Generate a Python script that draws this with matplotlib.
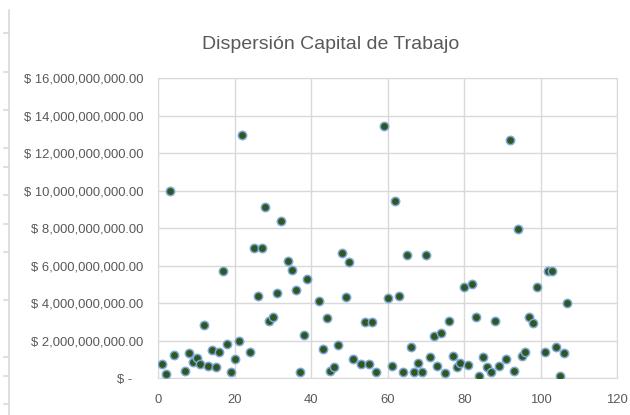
import matplotlib.pyplot as plt
from matplotlib.lines import Line2D
from matplotlib.ticker import FuncFormatter

# values (y in billions of pesos)
periodo = [1, 2, 3, 4, 7, 8, 9, 10, 11, 12, 13, 14, 15, 16, 17, 18, 19, 20,
           21, 22, 24, 25, 26, 27, 28, 29, 30, 31, 32, 34, 35, 36, 37, 38, 39,
           42, 43, 44, 45, 46, 47, 48, 49, 50, 51, 53, 54, 55, 56, 57, 59, 60,
           61, 62, 63, 64, 65, 66, 67, 68, 69, 70, 71, 72, 73, 74, 75, 76, 77,
           78, 79, 80, 81, 82, 83, 84, 85, 86, 87, 88, 89, 91, 92, 93, 94, 95,
           96, 97, 98, 99, 101, 102, 103, 104, 105, 106, 107]
capital_mm = [0.75, 0.21, 10.0, 1.24, 0.41, 1.33, 0.87, 1.10, 0.78, 2.84, 0.66,
              1.49, 0.59, 1.39, 5.71, 1.85, 0.34, 1.03, 2.0, 13.0, 1.40, 6.97,
              4.41, 6.97, 9.16, 3.06, 3.29, 4.57, 8.39, 6.24, 5.76, 4.71, 0.34,
              2.31, 5.32, 4.12, 1.55, 3.24, 0.41, 0.59, 1.78, 6.68, 4.34, 6.22,
              1.03, 0.75, 2.99, 0.75, 2.99, 0.34, 13.46, 4.27, 0.68, 9.46, 4.41,
              0.34, 6.60, 1.65, 0.34, 0.80, 0.34, 6.60, 1.12, 2.26, 0.66, 2.40,
              0.27, 3.06, 1.21, 0.62, 0.84, 4.85, 0.73, 5.03, 3.29, 0.14, 1.12,
              0.62, 0.34, 3.06, 0.66, 1.03, 12.69, 0.41, 7.95, 1.19, 1.40, 3.29,
              2.97, 4.85, 1.40, 5.71, 5.71, 1.65, 0.14, 1.33, 4.04]
capital = [v * 1e9 for v in capital_mm]

titulo = "Dispersión Capital de Trabajo"
gris = "#595959"
grilla = "#d9d9d9"
fuente = "Liberation Sans"


def fmt_pesos(v, pos):
    if v == 0:
        return "$ -   "
    return f"$ {v:,.2f}"


fig = plt.figure(figsize=(6.3, 4.15), dpi=100)
ax = fig.add_axes([0.2513, 0.0884, 0.7283, 0.7229])

ax.scatter(periodo, capital, s=36, color="#31561f", edgecolors="#7aa8d8",
           linewidths=1.1, zorder=3)

ax.set_xlim(0, 120)
ax.set_ylim(0, 16e9)
ax.set_xticks(range(0, 121, 20))
ax.set_yticks([i * 2e9 for i in range(9)])
ax.yaxis.set_major_formatter(FuncFormatter(fmt_pesos))

ax.grid(True, color=grilla, linewidth=1)
ax.set_axisbelow(True)
for s in ax.spines.values():
    s.set_color(grilla)
ax.tick_params(length=0, colors=gris, labelsize=9.4, pad=11)
ax.tick_params(axis="x", pad=11)
for lbl in ax.get_xticklabels() + ax.get_yticklabels():
    lbl.set_fontfamily(fuente)

fig.text(0.525, 0.893, titulo, ha="center", va="center", fontsize=14,
         color=gris, fontfamily=fuente)

# border of the neighbouring cell visible on the left edge
fig.add_artist(Line2D([9 / 630, 9 / 630], [0, 1 - 10 / 415], color=grilla,
                      linewidth=1.2, transform=fig.transFigure))
for yp in [33, 72, 110, 148, 167, 195, 224, 252, 300, 357, 376, 404]:
    fig.add_artist(Line2D([4 / 630, 9 / 630], [1 - yp / 415, 1 - yp / 415],
                          color=grilla, linewidth=1.2,
                          transform=fig.transFigure))

fig.savefig("out.png", dpi=100)
